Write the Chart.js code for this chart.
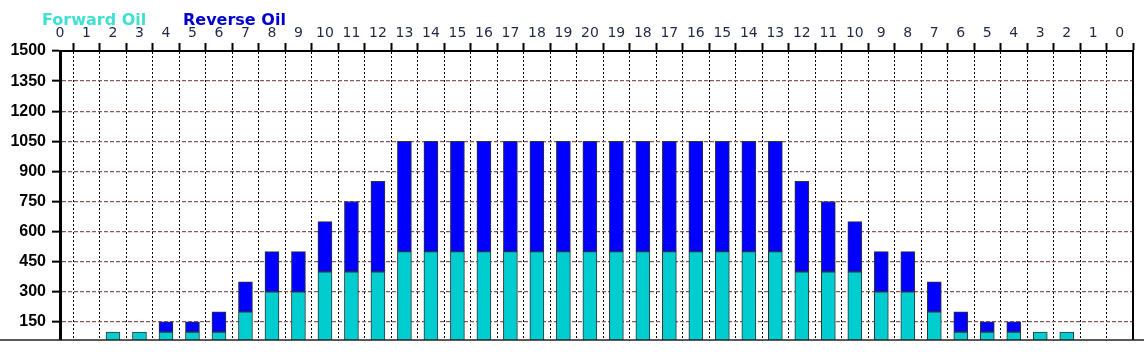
<!DOCTYPE html>
<html>
<head>
<meta charset="utf-8">
<script src="https://cdn.jsdelivr.net/npm/chart.js@4/dist/chart.umd.min.js"></script>
<style>
    html, body { margin: 0; padding: 0; background: #fff; }
    #wrap { width: 1144px; height: 360px; position: relative; }
</style>
</head>
<body>
<div id="wrap"><canvas id="chart"></canvas></div>
<script>
"use strict";

// tick labels along the top (distance, out to 20 and back)
const topLabels = [0, 1, 2, 3, 4, 5, 6, 7, 8, 9, 10, 11, 12, 13, 14, 15, 16, 17, 18, 19, 20,
    19, 18, 17, 16, 15, 14, 13, 12, 11, 10, 9, 8, 7, 6, 5, 4, 3, 2, 1, 0];

const forwardOil = [null, null, 100, 100, 100, 100, 100, 200, 300, 300, 400, 400, 400,
    500, 500, 500, 500, 500, 500, 500, 500, 500, 500, 500, 500, 500, 500, 500,
    400, 400, 400, 300, 300, 200, 100, 100, 100, 100, 100, null, null];

const reverseOil = [null, null, null, null, 50, 50, 100, 150, 200, 200, 250, 350, 450,
    550, 550, 550, 550, 550, 550, 550, 550, 550, 550, 550, 550, 550, 550, 550,
    450, 350, 250, 200, 200, 150, 100, 50, 50, null, null, null, null];

const yTicks = { min: 60, max: 1500, step: 150 };

const COLOR_FORWARD = "#00cdcf";
const COLOR_REVERSE = "#0000ff";

const legendText = {
    id: "legendText",
    afterDraw (chart) {
        const ctx = chart.ctx;
        const xs = [42, 183];

        ctx.save();
        ctx.font = "bold 16px 'DejaVu Sans'";
        ctx.textBaseline = "middle";
        chart.data.datasets.forEach((ds, i) => {
            ctx.fillStyle = ds.legendColor;
            ctx.fillText(ds.label, xs[i], 21);
        });
        ctx.restore();
    }
};

const frame = {
    id: "frame",
    afterDraw (chart) {
        const {ctx, chartArea: a} = chart;

        ctx.save();
        ctx.strokeStyle = "#000";
        ctx.lineWidth = 2;
        ctx.beginPath();
        ctx.moveTo(a.right, a.top - 1);
        ctx.lineTo(a.right, a.bottom);
        ctx.stroke();
        ctx.lineWidth = 1.5;
        ctx.strokeStyle = "#222";
        ctx.beginPath();
        ctx.moveTo(0, a.bottom);
        ctx.lineTo(chart.width, a.bottom);
        ctx.stroke();
        ctx.restore();
    }
};

new Chart(document.getElementById("chart"), {
    type: "bar",
    data: {
        labels: topLabels.map((_, i) => i),
        datasets: [{
            label: "Forward Oil",
            data: forwardOil,
            backgroundColor: COLOR_FORWARD,
            legendColor: "#40e0d0",
            borderColor: "#333",
            borderWidth: 1,
            borderSkipped: false,
            barThickness: 14
        }, {
            label: "Reverse Oil",
            data: reverseOil,
            backgroundColor: COLOR_REVERSE,
            legendColor: "#0000cc",
            borderColor: "#333",
            borderWidth: 1,
            borderSkipped: false,
            barThickness: 14
        }]
    },
    options: {
        responsive: true,
        maintainAspectRatio: false,
        animation: false,
        layout: { padding: { top: 0, right: 11, bottom: 20, left: 0 } },
        plugins: {
            legend: { display: false },
            tooltip: { enabled: false }
        },
        scales: {
            x: {
                type: "linear",
                position: "top",
                stacked: true,
                offset: false,
                min: 0,
                max: 40.5,
                afterFit: s => { s.height = 51; },
                ticks: {
                    stepSize: 1,
                    includeBounds: false,
                    autoSkip: false,
                    maxRotation: 0,
                    padding: 1,
                    color: "#1f2a44",
                    font: { family: "'DejaVu Sans'", size: 14 },
                    callback: v => topLabels[v] ?? ""
                },
                grid: {
                    color: "#000",
                    lineWidth: 1,
                    tickLength: 8,
                    tickColor: "#000",
                    tickWidth: 2,
                    tickBorderDash: []
                },
                border: { display: true, color: "#000", width: 2, dash: [2, 2] }
            },
            y: {
                position: "left",
                stacked: true,
                min: yTicks.min,
                max: yTicks.max,
                afterFit: s => { s.width = 60; },
                ticks: {
                    stepSize: yTicks.step,
                    includeBounds: false,
                    padding: 6,
                    color: "#000",
                    font: { family: "'Liberation Sans'", size: 16, weight: "bold" },
                    callback: v => String(v)
                },
                grid: {
                    color: "#8a5858",
                    lineWidth: 1.3,
                    tickLength: 8,
                    tickColor: "#000",
                    tickWidth: 2,
                    tickBorderDash: []
                },
                border: { display: true, color: "#000", width: 3, dash: [4, 2] }
            }
        }
    },
    plugins: [legendText, frame]
});
</script>
</body>
</html>
